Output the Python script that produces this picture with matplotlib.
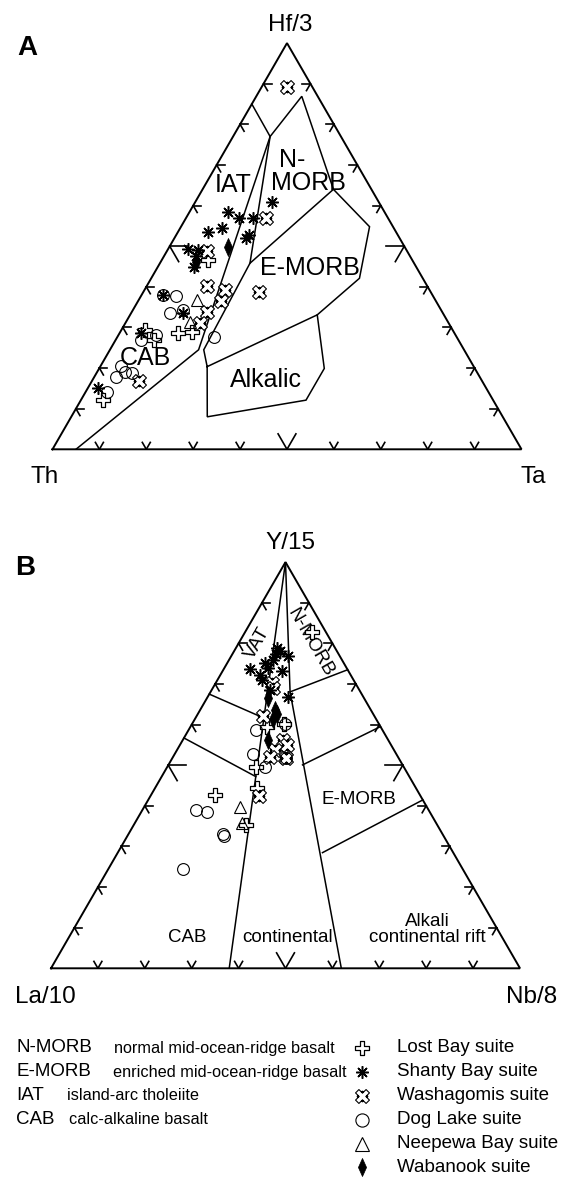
import numpy as np
import matplotlib.pyplot as plt
from matplotlib.path import Path

plt.rcParams['font.family'] = ['Liberation Sans', 'DejaVu Sans']

S = np.sqrt(3) / 2

# ---------------- Diagram A : Hf/3 - Th - Ta  (top, left, right fractions)
a_lost_bay = [(0.466, 0.435, 0.099), (0.294, 0.656, 0.050), (0.269, 0.649, 0.082),
              (0.286, 0.590, 0.124), (0.290, 0.557, 0.153), (0.121, 0.832, 0.047)]
a_shanty_bay = [(0.608, 0.227, 0.165), (0.585, 0.334, 0.081), (0.569, 0.318, 0.113),
                (0.569, 0.289, 0.142), (0.534, 0.401, 0.065), (0.544, 0.367, 0.089),
                (0.528, 0.316, 0.156), (0.493, 0.464, 0.043), (0.491, 0.445, 0.064),
                (0.450, 0.473, 0.077), (0.380, 0.574, 0.046), (0.335, 0.554, 0.111),
                (0.286, 0.668, 0.046), (0.150, 0.828, 0.022), (0.475, 0.457, 0.068),
                (0.520, 0.327, 0.153)]
a_washagomis = [(0.892, 0.054, 0.054), (0.569, 0.261, 0.170), (0.487, 0.428, 0.085),
                (0.401, 0.471, 0.128), (0.392, 0.437, 0.171), (0.364, 0.459, 0.177),
                (0.339, 0.502, 0.159), (0.388, 0.366, 0.246), (0.167, 0.733, 0.100),
                (0.312, 0.529, 0.159)]
a_dog_lake = [(0.380, 0.574, 0.046), (0.378, 0.547, 0.075), (0.335, 0.583, 0.082),
              (0.343, 0.550, 0.107), (0.276, 0.518, 0.206), (0.268, 0.678, 0.054),
              (0.282, 0.639, 0.079), (0.204, 0.751, 0.045), (0.179, 0.775, 0.046),
              (0.191, 0.750, 0.059), (0.189, 0.735, 0.076), (0.142, 0.813, 0.045)]
a_neepewa = [(0.368, 0.508, 0.124), (0.314, 0.550, 0.136)]
a_wabanook = [(0.499, 0.376, 0.125), (0.462, 0.464, 0.074)]

# field boundaries of diagram A
a_fields = [
    [(0.85, 0.15, 0.0), (0.770, 0.151, 0.079), (0.869, 0.034, 0.097), (0.640, 0.081, 0.279),
     (0.548, 0.050, 0.402), (0.421, 0.135, 0.444), (0.331, 0.270, 0.399)],
    [(0.458, 0.350, 0.192), (0.640, 0.081, 0.279)],
    [(0.770, 0.151, 0.079), (0.458, 0.350, 0.192), (0.245, 0.555, 0.200), (0.2035, 0.5685, 0.228),
     (0.080, 0.630, 0.290), (0.121, 0.399, 0.480), (0.199, 0.321, 0.480), (0.331, 0.270, 0.399),
     (0.2035, 0.5685, 0.228)],
    [(0.0, 0.95, 0.05), (0.245, 0.566, 0.189), (0.770, 0.151, 0.079)],
]
a_field_labels = ["N-", "MORB", "IAT", "E-MORB", "CAB", "Alkalic"]
a_axis_labels = ["Hf/3", "Th", "Ta"]

# ---------------- Diagram B : Y/15 - La/10 - Nb/8
b_lost_bay = [(0.828, 0.030, 0.142), (0.594, 0.243, 0.163), (0.602, 0.202, 0.196),
              (0.496, 0.315, 0.189), (0.445, 0.338, 0.217), (0.427, 0.436, 0.137),
              (0.353, 0.407, 0.240)]
b_shanty_bay = [(0.789, 0.124, 0.087), (0.782, 0.120, 0.098), (0.774, 0.133, 0.093),
                (0.768, 0.110, 0.122), (0.737, 0.207, 0.056), (0.751, 0.168, 0.081),
                (0.739, 0.167, 0.094), (0.710, 0.196, 0.094), (0.731, 0.142, 0.127),
                (0.669, 0.160, 0.171), (0.722, 0.194, 0.084), (0.759, 0.147, 0.094),
                (0.686, 0.190, 0.124)]
b_washagomis = [(0.702, 0.178, 0.120), (0.690, 0.181, 0.129), (0.620, 0.237, 0.143),
                (0.562, 0.224, 0.214), (0.550, 0.222, 0.228), (0.538, 0.253, 0.209),
                (0.520, 0.241, 0.239), (0.520, 0.273, 0.207), (0.423, 0.346, 0.231),
                (0.517, 0.240, 0.243)]
b_dog_lake = [(0.587, 0.270, 0.143), (0.527, 0.305, 0.168), (0.496, 0.296, 0.208),
              (0.602, 0.201, 0.197), (0.517, 0.240, 0.243), (0.389, 0.497, 0.114),
              (0.384, 0.475, 0.141), (0.325, 0.468, 0.207), (0.330, 0.468, 0.202),
              (0.245, 0.597, 0.158)]
b_neepewa = [(0.398, 0.398, 0.204), (0.357, 0.414, 0.229)]
b_wabanook = [(0.666, 0.204, 0.130), (0.636, 0.204, 0.160), (0.626, 0.205, 0.169),
              (0.614, 0.220, 0.166), (0.562, 0.256, 0.182)]

b_fields = [
    [(1.0, 0.0, 0.0), (0.0, 0.62, 0.38)],
    [(1.0, 0.0, 0.0), (0.6805, 0.150, 0.1695), (0.0, 0.381, 0.619)],
    [(0.675, 0.325, 0.0), (0.616, 0.238, 0.146)],
    [(0.567, 0.433, 0.0), (0.472, 0.3274, 0.2006)],
    [(0.735, 0.0, 0.265), (0.6805, 0.150, 0.1695)],
    [(0.5007, 0.2133, 0.286), (0.595, 0.0, 0.405)],
    [(0.2847, 0.2788, 0.4365), (0.4145, 0.0, 0.5855)],
]
b_field_labels = ["VAT", "N-MORB", "E-MORB", "CAB", "continental", "Alkali\ncontinental rift"]
b_axis_labels = ["Y/15", "La/10", "Nb/8"]

suite_names = ["Lost Bay suite", "Shanty Bay suite", "Washagomis suite",
               "Dog Lake suite", "Neepewa Bay suite", "Wabanook suite"]
abbrev = ["N-MORB", "E-MORB", "IAT", "CAB"]
abbrev_text = ["normal mid-ocean-ridge basalt", "enriched mid-ocean-ridge basalt",
               "island-arc tholeiite", "calc-alkaline basalt"]


def tern_xy(pts):
    p = np.asarray(pts, dtype=float)
    top, left, right = p[:, 0], p[:, 1], p[:, 2]
    tot = top + left + right
    return (right + top / 2) / tot, top * S / tot


# custom marker shapes
a = 0.32
plus_v = [(-a, 1), (a, 1), (a, a), (1, a), (1, -a), (a, -a), (a, -1), (-a, -1),
          (-a, -a), (-1, -a), (-1, a), (-a, a), (-a, 1)]
plus_path = Path(plus_v, closed=True)
c45 = np.cos(np.pi / 4)
x_outline = Path([((x - y) * c45, (x + y) * c45) for x, y in plus_v], closed=True)
dots = [Path.circle((dx, dy), 0.09) for dx, dy in [(0.62, 0), (-0.62, 0), (0, 0.62), (0, -0.62)]]
xcross_path = Path.make_compound_path(x_outline, *dots)
diamond_path = Path([(0, 1), (0.45, 0), (0, -1), (-0.45, 0), (0, 1)], closed=True)

styles = {
    "lost": dict(marker=plus_path, ms=9.5, mfc='white', mec='black', mew=0.9, zorder=4),
    "shanty": dict(marker=(8, 2, 0), ms=9, mfc='black', mec='black', mew=1.1, zorder=6),
    "wash": dict(marker=xcross_path, ms=10, mfc='white', mec='black', mew=0.8, zorder=4),
    "dog": dict(marker='o', ms=8.5, mfc='none', mec='black', mew=0.8, zorder=5),
    "neep": dict(marker='^', ms=9, mfc='none', mec='black', mew=0.8, zorder=5),
    "waba": dict(marker=diamond_path, ms=13, mfc='black', mec='black', mew=0.5, zorder=6),
}


def frame(ax):
    ax.plot([0, 1, 0.5, 0], [0, 0, S, 0], color='black', lw=1.4, zorder=2,
            solid_joinstyle='miter', clip_on=False)
    for f in np.arange(1, 10) / 10:
        ln = 0.038 if abs(f - 0.5) < 1e-9 else 0.017
        # left edge
        p = np.array([f * 0.5, f * S])
        for d in [(1, 0), (0.5, -S)]:
            ax.plot([p[0], p[0] + ln * d[0]], [p[1], p[1] + ln * d[1]], color='black', lw=1.2, zorder=2)
        # right edge
        p = np.array([1 - f * 0.5, f * S])
        for d in [(-1, 0), (-0.5, -S)]:
            ax.plot([p[0], p[0] + ln * d[0]], [p[1], p[1] + ln * d[1]], color='black', lw=1.2, zorder=2)
        # base
        p = np.array([f, 0])
        for d in [(-0.5, S), (0.5, S)]:
            ax.plot([p[0], p[0] + ln * d[0]], [p[1], p[1] + ln * d[1]], color='black', lw=1.2, zorder=2)


def draw(ax, fields, suites):
    ax.set_xlim(0, 1)
    ax.set_ylim(0, S)
    ax.axis('off')
    frame(ax)
    for poly in fields:
        x, y = tern_xy(poly)
        ax.plot(x, y, color='black', lw=1.1, zorder=2, solid_joinstyle='miter')
    for key, pts in suites:
        x, y = tern_xy(pts)
        ax.plot(x, y, ls='none', **styles[key])


fig = plt.figure(figsize=(5.66, 11.8), dpi=100)
W, H = 469 / 566, 406.2 / 1180

# ---- A
axA = fig.add_axes([52.5 / 566, 1 - 449.3 / 1180, W, H])
draw(axA, a_fields, [("dog", a_dog_lake), ("neep", a_neepewa), ("lost", a_lost_bay),
                     ("wash", a_washagomis), ("waba", a_wabanook), ("shanty", a_shanty_bay)])
axA.text(-0.054, 0.856, "A", fontsize=20, fontweight='bold', ha='center', va='center')
axA.text(0.506, 0.905, a_axis_labels[0], fontsize=17.5, ha='center', va='center')
axA.text(-0.017, -0.059, a_axis_labels[1], fontsize=17.5, ha='center', va='center')
axA.text(1.025, -0.059, a_axis_labels[2], fontsize=17.5, ha='center', va='center')
a_lab_pos = [(0.483, 0.617, 'left'), (0.466, 0.568, 'left'), (0.386, 0.5635, 'center'),
             (0.549, 0.387, 'center'), (0.197, 0.195, 'center'), (0.455, 0.148, 'center')]
for txt, (x, y, ha) in zip(a_field_labels, a_lab_pos):
    axA.text(x, y, txt, fontsize=18, ha=ha, va='center', zorder=3)

# ---- B
axB = fig.add_axes([51 / 566, 1 - 968.3 / 1180, W, H])
draw(axB, b_fields, [("dog", b_dog_lake), ("neep", b_neepewa), ("lost", b_lost_bay),
                     ("wash", b_washagomis), ("waba", b_wabanook), ("shanty", b_shanty_bay)])
axB.text(-0.055, 0.853, "B", fontsize=20, fontweight='bold', ha='center', va='center')
axB.text(0.510, 0.907, b_axis_labels[0], fontsize=17.5, ha='center', va='center')
axB.text(-0.011, -0.061, b_axis_labels[1], fontsize=17.5, ha='center', va='center')
axB.text(1.024, -0.061, b_axis_labels[2], fontsize=17.5, ha='center', va='center')
b_lab_pos = [(0.440, 0.693, 60), (0.552, 0.694, -60), (0.656, 0.359, 0),
             (0.2915, 0.066, 0), (0.505, 0.066, 0), (0.803, 0.083, 0)]
for txt, (x, y, rot) in zip(b_field_labels, b_lab_pos):
    axB.text(x, y, txt, fontsize=13.5, ha='center', va='center', rotation=rot,
             linespacing=0.95, zorder=3)

# ---- legend (pixel coordinates)
lg = fig.add_axes([0, 0, 1, 1], zorder=-1)
lg.set_xlim(0, 566)
lg.set_ylim(1180, 0)
lg.axis('off')
rows = [1048, 1072, 1096, 1120, 1143.5, 1167]
desc_x = [114, 113, 67, 69]
for i, (ab, ds) in enumerate(zip(abbrev, abbrev_text)):
    lg.text(16, rows[i], ab, fontsize=13.5, ha='left', va='center')
    lg.text(desc_x[i], rows[i], ds, fontsize=11.7, ha='left', va='center')
keys = ["lost", "shanty", "wash", "dog", "neep", "waba"]
legend_ms = [9.5, 9, 10, 9.5, 10, 13]
for i, (k, name) in enumerate(zip(keys, suite_names)):
    st = dict(styles[k])
    st['ms'] = legend_ms[i]
    lg.plot([362], [rows[i]], ls='none', **st)
    lg.text(397, rows[i], name, fontsize=13.5, ha='left', va='center')

fig.savefig('out.png', dpi=100)
